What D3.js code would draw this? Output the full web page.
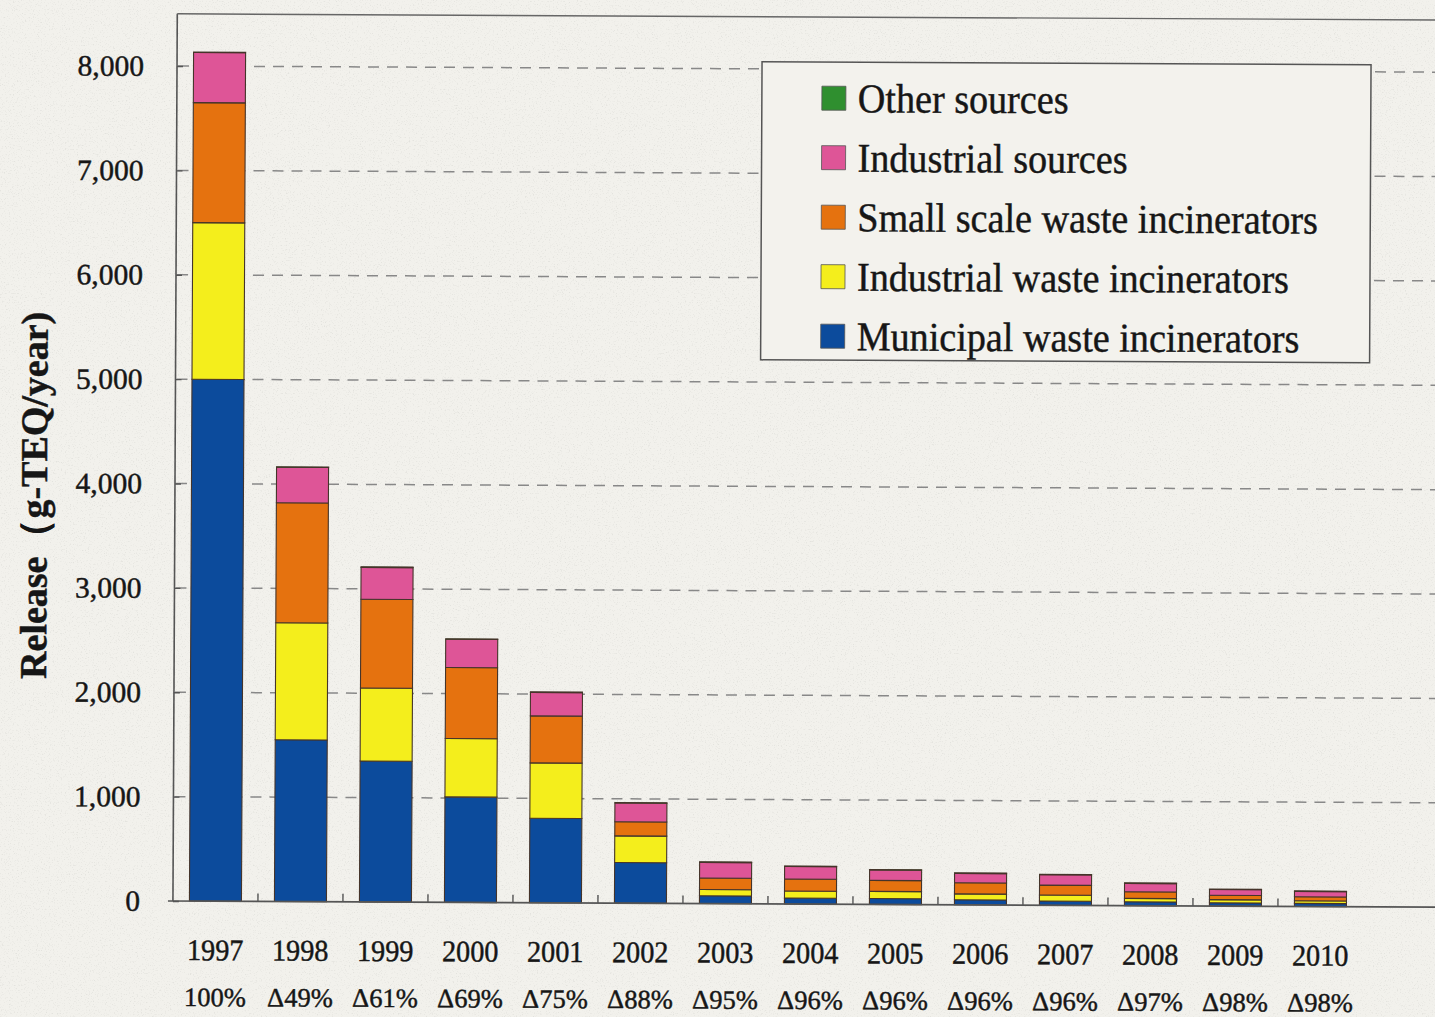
<!DOCTYPE html>
<html>
<head>
<meta charset="utf-8">
<script src="https://cdn.jsdelivr.net/npm/d3@7"></script>
<style>
  html, body { margin: 0; padding: 0; background: #efeee8; }
  svg { display: block; }
  text { font-family: "Liberation Serif", "Times New Roman", serif; fill: #161616; stroke: #161616; stroke-width: 0.45; }
</style>
</head>
<body>
<svg id="chart" width="1435" height="1017"></svg>
<script>
// Annual dioxin release by source, g-TEQ/year
const years = ["1997","1998","1999","2000","2001","2002","2003","2004","2005","2006","2007","2008","2009","2010"];
const municipalWaste   = [5000, 1550, 1350, 1010, 810, 390, 75, 58, 57, 48, 40, 38, 32, 30];
const industrialWaste  = [1500, 1120,  700,  560, 530, 255, 60, 67, 68, 57, 58, 32, 30, 25];
const smallScaleWaste  = [1150, 1150,  850,  680, 450, 135, 110, 115, 105, 106, 95, 63, 42, 38];
const industrialSource = [ 480,  340,  305,  270, 225, 180, 150, 120, 100, 90, 100, 80, 55, 52];
const otherSources     = [   5,    5,    5,    5,   5,   5,   5,   4,   5,   5,   4,   5,  4,  4];
const changeLabels = ["100%","Δ49%","Δ61%","Δ69%","Δ75%","Δ88%","Δ95%","Δ96%","Δ96%","Δ96%","Δ96%","Δ97%","Δ98%","Δ98%"];
const yTicks = [0, 1000, 2000, 3000, 4000, 5000, 6000, 7000, 8000];

const seriesKeys   = ["municipal", "industrialWaste", "smallScale", "industrialSrc", "other"];
const seriesNames  = {
  municipal: "Municipal waste incinerators",
  industrialWaste: "Industrial waste incinerators",
  smallScale: "Small scale waste incinerators",
  industrialSrc: "Industrial sources",
  other: "Other sources"
};
const seriesColors = {
  municipal: "#0c4b9c",
  industrialWaste: "#f4ee1c",
  smallScale: "#e5720f",
  industrialSrc: "#de5597",
  other: "#2f8f2f"
};

const rows = years.map((y, i) => ({
  year: y,
  municipal: municipalWaste[i],
  industrialWaste: industrialWaste[i],
  smallScale: smallScaleWaste[i],
  industrialSrc: industrialSource[i],
  other: otherSources[i]
}));

// narrow a text run to a fraction of its natural width
function condense(sel, k) {
  sel.each(function () {
    const w = this.getComputedTextLength();
    d3.select(this).attr("textLength", w * k).attr("lengthAdjust", "spacingAndGlyphs");
  });
}

const svg = d3.select("#chart");

// paper grain
const defs = svg.append("defs");
const grain = defs.append("filter").attr("id", "grain")
  .attr("x", 0).attr("y", 0).attr("width", "100%").attr("height", "100%");
grain.append("feTurbulence").attr("type", "fractalNoise")
  .attr("baseFrequency", 0.75).attr("numOctaves", 2).attr("seed", 7);
grain.append("feColorMatrix").attr("type", "matrix")
  .attr("values", "0 0 0 0 0.55  0 0 0 0 0.55  0 0 0 0 0.52  4 0 0 0 -2.25");

svg.append("rect").attr("width", 1435).attr("height", 1017).attr("fill", "#f2f1ec");
svg.append("rect").attr("width", 1435).attr("height", 1017)
  .attr("filter", "url(#grain)").attr("opacity", 0.3);

// whole chart is laid slightly askew
const root = svg.append("g").attr("transform", "rotate(0.28, 175, 480)");

const x = d3.scaleBand().domain(years).range([175, 1365]).paddingInner(0.388).paddingOuter(0.194);
const y = d3.scaleLinear().domain([0, 8500]).range([901, 901 - 8500 * 0.104375]);
const plotRight = 1445;

// dashed grid
root.append("g").selectAll("line").data(yTicks.slice(1)).join("line")
  .attr("x1", 176).attr("x2", plotRight)
  .attr("y1", d => y(d)).attr("y2", d => y(d))
  .attr("stroke", "#888").attr("stroke-width", 1.5).attr("stroke-dasharray", "11 8");

// y axis with inward ticks
const yAxis = root.append("g").attr("transform", "translate(175,0)")
  .call(d3.axisRight(y).tickValues(yTicks).tickSize(6).tickFormat(""));
yAxis.select(".domain").remove();
yAxis.selectAll(".tick line").attr("stroke", "#555").attr("stroke-width", 1.4);

root.append("line").attr("x1", 175).attr("x2", 175).attr("y1", y(8500)).attr("y2", 901)
  .attr("stroke", "#555").attr("stroke-width", 1.6);
root.append("line").attr("x1", 175).attr("x2", plotRight).attr("y1", y(8500)).attr("y2", y(8500))
  .attr("stroke", "#666").attr("stroke-width", 1.4);

root.append("g").selectAll("text").data(yTicks).join("text")
  .attr("x", 142).attr("y", d => y(d)).attr("dy", "0.34em")
  .attr("text-anchor", "end").attr("font-size", 29.5)
  .text(d3.format(","));

// stacked bars
const stacked = d3.stack().keys(seriesKeys)(rows);
root.append("g").selectAll("g").data(stacked).join("g")
  .attr("fill", d => seriesColors[d.key])
  .selectAll("rect").data(d => d).join("rect")
  .attr("x", d => x(d.data.year))
  .attr("width", x.bandwidth())
  .attr("y", d => y(d[1]))
  .attr("height", d => y(d[0]) - y(d[1]))
  .attr("stroke", "#45342a").attr("stroke-width", 1.1);

// x axis line and separators between categories
root.append("line").attr("x1", 170).attr("x2", plotRight).attr("y1", 901).attr("y2", 901)
  .attr("stroke", "#555").attr("stroke-width", 1.6);
root.append("g").selectAll("line").data(years.slice(1)).join("line")
  .attr("x1", d => x(d) - x.step() * x.paddingInner() / 2)
  .attr("x2", d => x(d) - x.step() * x.paddingInner() / 2)
  .attr("y1", 901).attr("y2", 893)
  .attr("stroke", "#555").attr("stroke-width", 1.4);

// category labels
root.append("g").selectAll("text").data(years).join("text")
  .attr("x", d => x(d) + x.bandwidth() / 2).attr("y", 960)
  .attr("text-anchor", "middle").attr("font-size", 30)
  .text(d => d)
  .call(condense, 0.94);
root.append("g").selectAll("text").data(changeLabels).join("text")
  .attr("x", (d, i) => x(years[i]) + x.bandwidth() / 2).attr("y", 1006)
  .attr("text-anchor", "middle").attr("font-size", 26.5)
  .text(d => d);

// y axis title
root.append("text")
  .attr("transform", "translate(47,496) rotate(-90)")
  .attr("text-anchor", "middle").attr("font-size", 38).attr("font-weight", "bold")
  .attr("stroke-width", 0)
  .text("Release（g-TEQ/year)");

// legend
const legend = root.append("g").attr("transform", "translate(760,59)");
legend.append("rect").attr("width", 609).attr("height", 298)
  .attr("fill", "#f3f2ed").attr("stroke", "#555").attr("stroke-width", 1.5);
const legendOrder = ["other", "industrialSrc", "smallScale", "industrialWaste", "municipal"];
const item = legend.selectAll("g.item").data(legendOrder).join("g")
  .attr("class", "item")
  .attr("transform", (d, i) => `translate(60,${36 + i * 59.5})`);
item.append("rect").attr("x", 0).attr("y", -12).attr("width", 24).attr("height", 24)
  .attr("fill", d => seriesColors[d]).attr("stroke", "#555").attr("stroke-width", 0.8);
item.append("text").attr("x", 36).attr("dy", "0.34em").attr("font-size", 41)
  .attr("stroke-width", 0.6)
  .text(d => seriesNames[d])
  .call(condense, 0.93);
</script>
</body>
</html>
